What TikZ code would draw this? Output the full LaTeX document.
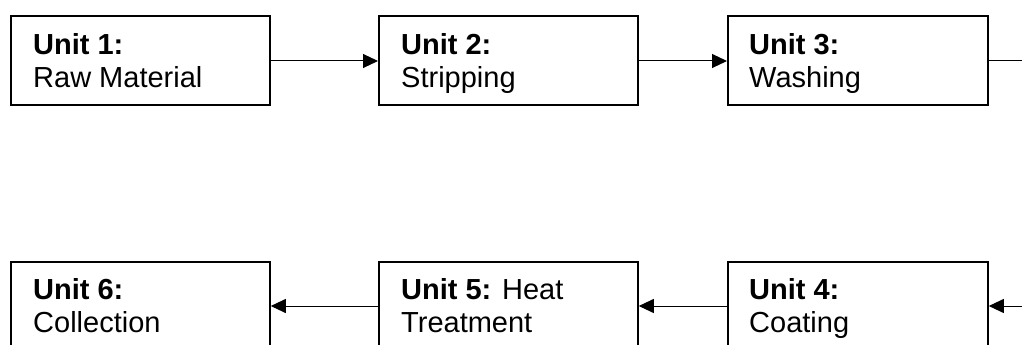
\documentclass[tikz,border=0pt]{standalone}
\usepackage{fontspec}
\setmainfont{Liberation Sans}
\usetikzlibrary{arrows.meta}
\begin{document}
\begin{tikzpicture}[x=1pt,y=1pt,
  unitbox/.style={draw,line width=1.8pt,anchor=north west,minimum width=259pt,minimum height=89pt,inner sep=0pt},
  unittext/.style={anchor=north west,inner sep=0pt,align=left,font=\fontsize{29}{33}\selectfont},
  flow/.style={line width=1pt,-{Triangle[length=15pt,width=14pt]}}]
\useasboundingbox (0,0) rectangle (1022,-345);
% top row
\node[unitbox] (u1) at (10,-15) {};
\node[unitbox] (u2) at (378,-15) {};
\node[unitbox,minimum width=260pt] (u3) at (727,-15) {};
\node[unittext] (t1) at (33,-33.5) {\textbf{Unit 1:}\\Raw Material};
\node[unittext] (t2) at (401,-33.5) {\textbf{Unit 2:}\\Stripping};
\node[unittext] (t3) at (749,-33.5) {\textbf{Unit 3:}\\Washing};
% bottom row
\node[unitbox] (u6) at (10,-261) {};
\node[unitbox] (u5) at (378,-261) {};
\node[unitbox,minimum width=260pt] (u4) at (727,-261) {};
\node[unittext] (t6) at (33,-278.5) {\textbf{Unit 6:}\\Collection};
\node[unittext] (t5) at (401,-278.5) {\textbf{Unit 5:} Heat\\Treatment};
\node[unittext] (t4) at (749,-278.5) {\textbf{Unit 4:}\\Coating};
% off-page ends
\coordinate (outR) at (1040,-61);
\coordinate (inR) at (1040,-306);
% connectors
\draw[flow] (u1.east |- 0,-61) -- (u2.west |- 0,-61);
\draw[flow] (u2.east |- 0,-61) -- (u3.west |- 0,-61);
\draw[line width=1pt] (u3.east |- outR) -- (outR);
\draw[flow] (inR) -- (u4.east |- inR);
\draw[flow] (u4.west |- inR) -- (u5.east |- inR);
\draw[flow] (u5.west |- inR) -- (u6.east |- inR);
\end{tikzpicture}
\end{document}
